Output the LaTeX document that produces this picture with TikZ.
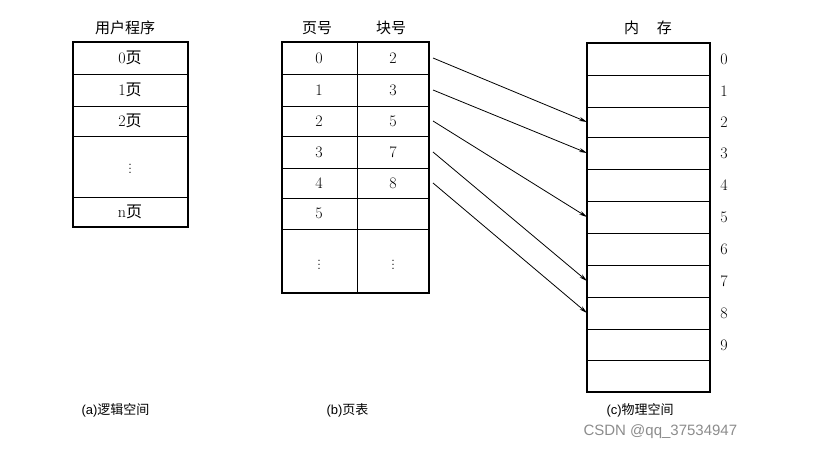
\documentclass[tikz,border=0pt]{standalone}
\usepackage{fontspec}
\usetikzlibrary{arrows.meta}
\newfontfamily\cjk{Noto Sans CJK SC}
\newfontfamily\capf{Liberation Sans}
\begin{document}
\begin{tikzpicture}[x=1pt,y=-1pt,
  box/.style={draw,line width=1.3pt},
  ln/.style={line width=0.9pt},
  t/.style={font=\fontsize{16}{18}\selectfont},
  c/.style={font=\cjk\fontsize{15}{18}\selectfont},
  captxt/.style={font=\capf\fontsize{13}{15}\selectfont\cjk},
  arr/.style={line width=0.8pt,-{Stealth[length=8pt,width=4pt]}}]
\useasboundingbox (0,0) rectangle (816,452);
% (a)
\node[c] (ta) at (125,28) {用户程序};
\draw[box] (73,42) rectangle (188,227);
\foreach \y in {74,106,136,197} \draw[ln] (73,\y) -- (188,\y);
\node[t] (a0) at (130,58) {0\cjk 页};
\node[t] (a1) at (130,90) {1\cjk 页};
\node[t] (a2) at (130,121) {2\cjk 页};
\node[t] (ad) at (130,166) {$\vdots$};
\node[t] (an) at (130,212) {n\cjk 页};
% (b)
\node[c] (tb1) at (317,28) {页号};
\node[c] (tb2) at (391,28) {块号};
\draw[box] (282,42) rectangle (429,293);
\draw[ln] (357,42) -- (357,293);
\foreach \y in {74,106,136,168,198,229} \draw[ln] (282,\y) -- (429,\y);
\foreach \i/\b/\yy in {0/2/58,1/3/90,2/5/121,3/7/152,4/8/183}{
  \node[t] (p\i) at (319,\yy) {\i};
  \node[t] (b\i) at (393,\yy) {\b};
  \coordinate (s\i) at (433,\yy);
}
\node[t] (p5) at (319,213) {5};
\node[t] (pd) at (319,262) {$\vdots$};
\node[t] (bd) at (393,262) {$\vdots$};
% (c)
\node[c] (tc) at (648,28) {内\hspace{1.2em}存};
\draw[box] (587,43) rectangle (710,392);
\foreach \y in {75,107,137,169,201,233,265,297,329,360} \draw[ln] (587,\y) -- (710,\y);
\foreach \i/\yy in {0/59,1/91,2/122,3/153,4/185,5/217,6/249,7/281,8/313,9/345}{
  \node[t] (m\i) at (724,\yy) {\i};
}
\foreach \i/\yy in {2/122,3/153,5/217,7/281,8/313} \coordinate (d\i) at (587,\yy);
\draw[arr] (s0) -- (d2);
\draw[arr] (s1) -- (d3);
\draw[arr] (s2) -- (d5);
\draw[arr] (s3) -- (d7);
\draw[arr] (s4) -- (d8);
% captions
\node[captxt,anchor=west] (ca) at (78,410) {{\capf(a)}逻辑空间};
\node[captxt,anchor=west] (cb) at (323,410) {{\capf(b)}页表};
\node[captxt,anchor=west] (cc) at (603,410) {{\capf(c)}物理空间};
\node[font=\capf\fontsize{15}{17}\selectfont,text=black!45,anchor=west] (wm) at (580,432) {CSDN @qq\_37534947};
\end{tikzpicture}
\end{document}
